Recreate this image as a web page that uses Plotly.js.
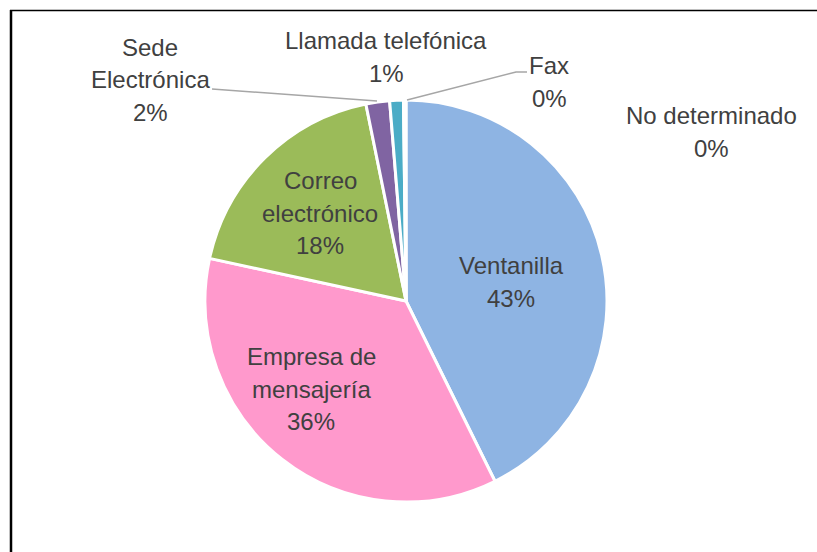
<!DOCTYPE html>
<html>
<head>
<meta charset="utf-8">
<script src="https://cdn.plot.ly/plotly-3.0.1.min.js"></script>
<style>html,body{margin:0;padding:0;background:#fff;}#chart{width:817px;height:552px;}</style>
</head>
<body>
<div id="chart"></div>
<script>
// ---- data ----
const categories = ["Ventanilla", "Empresa de mensajería", "Correo electrónico", "Sede Electrónica", "Llamada telefónica", "Fax", "No determinado"];
const values = [42.7, 35.7, 18.4, 1.9, 1.1, 0.15, 0.05];
const displayNames = ["Ventanilla", "Empresa de<br>mensajería", "Correo<br>electrónico", "Sede<br>Electrónica", "Llamada telefónica", "Fax", "No determinado"];
const colors = ["#8EB4E3", "#FF99CC", "#9BBB59", "#8064A2", "#4BACC6", "#F79646", "#C0504D"];

// ---- layout helpers (pixel -> paper) ----
const W = 817, H = 552;
const px = x => x / W;
const py = y => 1 - y / H;

// label centre positions in pixels (layout only)
const labelPos = [[511, 282], [311, 389], [320, 213], [150, 80], [386, 57], [549, 82], [711, 132]];
const lineGap = 32.5;

const total = values.reduce((a, b) => a + b, 0);
const annotations = [];
categories.forEach((c, i) => {
  const lines = displayNames[i].split('<br>').concat([Math.round(values[i] / total * 100) + '%']);
  const n = lines.length;
  lines.forEach((t, k) => {
    const yy = labelPos[i][1] + (k - (n - 1) / 2) * lineGap;
    annotations.push({
      xref: 'paper', yref: 'paper',
      x: px(labelPos[i][0]), y: py(yy),
      xanchor: 'center', yanchor: 'middle',
      text: t, showarrow: false,
      font: {family: 'Liberation Sans, Arial, sans-serif', size: 24, color: '#404040'}
    });
  });
});

const cx = 406, cy = 301, R = 201;

const shapes = [
  // frame
  {type: 'line', xref: 'paper', yref: 'paper', x0: px(10), y0: py(10.5), x1: px(817), y1: py(10.5), line: {color: '#000', width: 1.5}},
  {type: 'line', xref: 'paper', yref: 'paper', x0: px(11), y0: py(10), x1: px(11), y1: py(552), line: {color: '#000', width: 2.5}},
  // leader lines
  {type: 'path', xref: 'paper', yref: 'paper', path: `M ${px(212)} ${py(89)} L ${px(377)} ${py(101)}`, line: {color: '#A6A6A6', width: 1.5}},
  {type: 'path', xref: 'paper', yref: 'paper', path: `M ${px(407)} ${py(100)} L ${px(516)} ${py(72)} L ${px(527)} ${py(72)}`, line: {color: '#A6A6A6', width: 1.5}}
];

const trace = {
  type: 'pie',
  labels: categories,
  values: values,
  sort: false,
  direction: 'clockwise',
  rotation: 0,
  textinfo: 'none',
  hoverinfo: 'label+percent',
  marker: {colors: colors, line: {color: '#ffffff', width: 3}},
  domain: {x: [px(cx - R), px(cx + R)], y: [py(cy + R), py(cy - R)]},
  showlegend: false
};

const layout = {
  width: W, height: H,
  margin: {l: 0, r: 0, t: 0, b: 0},
  paper_bgcolor: '#ffffff',
  showlegend: false,
  annotations: annotations,
  shapes: shapes
};

Plotly.newPlot('chart', [trace], layout, {displayModeBar: false, staticPlot: true});
</script>
</body>
</html>
